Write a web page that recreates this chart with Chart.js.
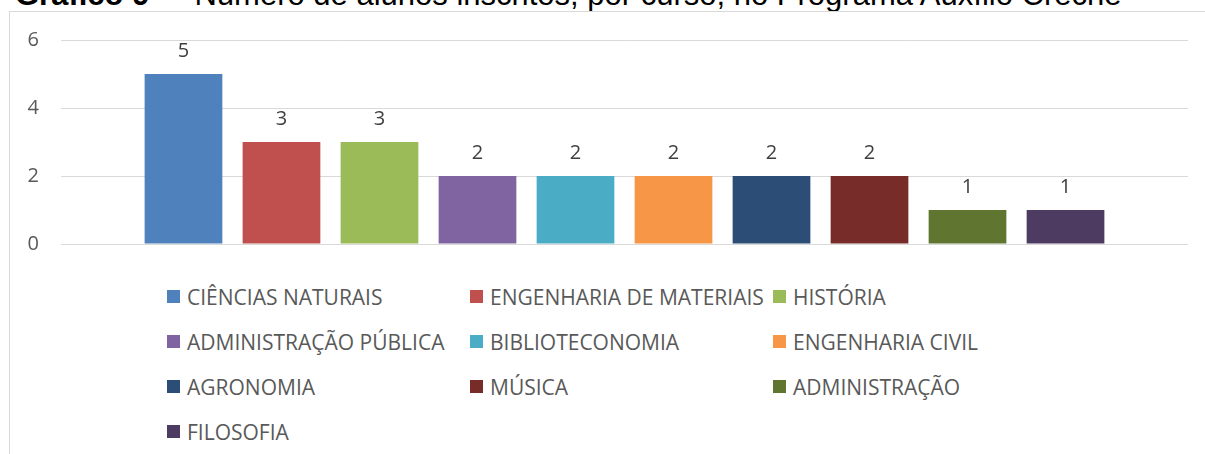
<!DOCTYPE html>
<html lang="pt">
<head>
<meta charset="utf-8">
<title>Gráfico 9</title>
<script src="https://cdn.jsdelivr.net/npm/chart.js@4.4.1/dist/chart.umd.min.js"></script>
<style>
  html, body { margin: 0; padding: 0; background: #fff; }
  body { width: 1205px; height: 454px; position: relative; overflow: hidden; }
  .title {
    position: absolute; top: -21px; white-space: pre;
    font-family: "Liberation Sans", Arial, sans-serif; font-size: 31px; line-height: 31px; color: #000;
  }
  .frame {
    position: absolute; left: 9px; top: 11px; width: 1300px; height: 500px;
    border: 1px solid #d9d9d9; box-sizing: border-box;
  }
  #cursosChart { position: absolute; left: 0; top: 0; }
  #legend {
    position: absolute; left: 167px; top: 274px;
    display: grid; grid-template-columns: repeat(3, 303px); grid-auto-rows: 45px;
    font-family: "Open Sans", sans-serif; font-size: 21px; color: #595959;
  }
  #legend .item { display: flex; align-items: center; white-space: nowrap; }
  #legend .box { width: 13px; height: 13px; margin-right: 7px; flex: none; }
</style>
</head>
<body>
<span class="title" style="left:15px;font-weight:bold">Gráfico 9</span>
<span class="title" style="left:160px">–  Número de alunos inscritos, por curso, no Programa Auxílio Creche</span>
<div class="frame"></div>
<canvas id="cursosChart" width="1205" height="270"></canvas>
<div id="legend"></div>

<script>
// dados
const cursos = ['CIÊNCIAS NATURAIS', 'ENGENHARIA DE MATERIAIS', 'HISTÓRIA',
    'ADMINISTRAÇÃO PÚBLICA', 'BIBLIOTECONOMIA', 'ENGENHARIA CIVIL',
    'AGRONOMIA', 'MÚSICA', 'ADMINISTRAÇÃO', 'FILOSOFIA'];
const alunos = [5, 3, 3, 2, 2, 2, 2, 2, 1, 1];
const cores = ['#4F81BD', '#C0504D', '#9BBB59', '#8064A2', '#4BACC6',
    '#F79646', '#2C4D75', '#772C2A', '#5F7530', '#4D3B62'];
const yTicks = [0, 2, 4, 6];

Chart.defaults.font.family = "'Open Sans', sans-serif";
Chart.defaults.font.size = 20;

// rótulos de valor acima das barras
const valueLabels = {
    id: 'valueLabels',
    afterDatasetsDraw(chart) {
        const c = chart.ctx;
        c.save();
        c.font = "20px 'Open Sans', sans-serif";
        c.fillStyle = '#404040';
        c.textAlign = 'center';
        c.textBaseline = 'alphabetic';
        chart.data.datasets.forEach((ds, i) => {
            const bar = chart.getDatasetMeta(i).data[0];
            c.fillText(String(ds.data[0]), bar.x, bar.y - 17.5);
        });
        c.restore();
    }
};

const chart = new Chart(document.getElementById('cursosChart'), {
    type: 'bar',
    data: {
        labels: [''],
        datasets: cursos.map((curso, i) => ({
            label: curso,
            data: [alunos[i]],
            backgroundColor: cores[i],
            categoryPercentage: 0.8696,
            barPercentage: 0.793
        }))
    },
    options: {
        responsive: false,
        animation: false,
        layout: { padding: { left: 0, right: 17, top: 40, bottom: 26 } },
        plugins: { legend: { display: false }, tooltip: { enabled: false } },
        scales: {
            x: { display: false },
            y: {
                min: 0, max: 6,
                afterFit: s => { s.width = 61; s.paddingTop = 0; s.paddingBottom = 0; },
                afterBuildTicks: s => { s.ticks = yTicks.map(v => ({ value: v })); },
                grid: { color: '#d9d9d9', lineWidth: 1, drawTicks: false },
                border: { display: false },
                ticks: { color: '#595959', padding: 22 }
            }
        }
    },
    plugins: [valueLabels]
});

// legenda em grade de 3 colunas, como no original
const legend = document.getElementById('legend');
chart.data.datasets.forEach(ds => {
    const item = document.createElement('div');
    item.className = 'item';
    item.innerHTML = `<span class="box" style="background:${ds.backgroundColor}"></span>${ds.label}`;
    legend.appendChild(item);
});
</script>
</body>
</html>
